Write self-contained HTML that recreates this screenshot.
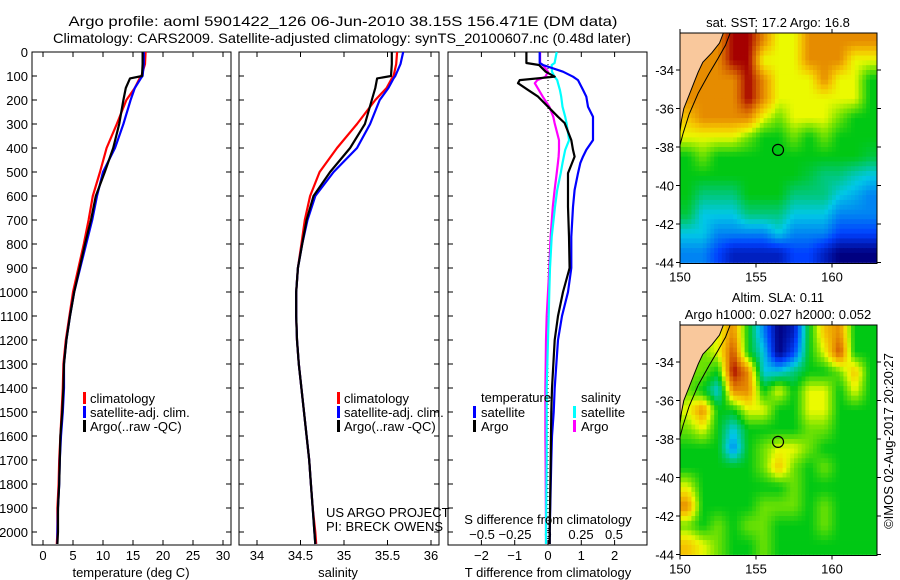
<!DOCTYPE html>
<html><head><meta charset="utf-8">
<style>
html,body{margin:0;padding:0;background:#fff;}
svg{display:block;font-family:"Liberation Sans",sans-serif;}
</style></head>
<body>
<svg id="fig" width="900" height="580" viewBox="0 0 900 580" xmlns="http://www.w3.org/2000/svg">
<text x="343" y="26" font-size="14" text-anchor="middle" textLength="549" lengthAdjust="spacingAndGlyphs">Argo profile: aoml 5901422_126 06-Jun-2010 38.15S 156.471E (DM data)</text>
<text x="342" y="43" font-size="14" text-anchor="middle" textLength="578" lengthAdjust="spacingAndGlyphs">Climatology: CARS2009. Satellite-adjusted climatology: synTS_20100607.nc (0.48d later)</text>
<g id="g"></g>
<text transform="translate(893,441) rotate(-90)" font-size="13" text-anchor="middle">©IMOS 02-Aug-2017 20:20:27</text>
</svg>
<script>
// ---------- data ----------
const depths = [0,50,100,110,150,200,300,400,500,600,700,800,900,1000,1100,1200,1300,1400,1500,1600,1700,1800,1900,2000,2050];
const tempArgo = [16.6,16.6,16.5,14.5,13.8,13.4,12.7,11.7,10.3,8.8,8.0,7.0,6.1,5.2,4.5,3.9,3.5,3.4,3.2,2.9,2.8,2.7,2.5,2.5,2.4];
const tempClim = [17.1,17.0,16.4,16.1,15.3,13.9,12.3,10.6,9.5,8.3,7.6,6.8,5.9,5.0,4.4,3.8,3.4,3.3,3.1,2.9,2.7,2.6,2.4,2.4,2.3];
const tempSat  = [16.8,16.8,16.6,16.3,15.3,14.6,13.4,12.0,10.0,9.0,8.2,7.2,6.2,5.2,4.5,3.9,3.5,3.5,3.3,3.0,2.8,2.7,2.5,2.4,2.4];
const salArgo = [35.55,35.55,35.54,35.38,35.36,35.32,35.24,35.07,34.84,34.65,34.57,34.52,34.47,34.45,34.45,34.46,34.48,34.51,34.54,34.57,34.60,34.62,34.64,34.66,34.67];
const salClim = [35.61,35.60,35.57,35.55,35.49,35.36,35.15,34.92,34.72,34.61,34.55,34.51,34.47,34.45,34.45,34.46,34.48,34.51,34.54,34.57,34.60,34.62,34.64,34.67,34.68];
const salSat  = [35.68,35.65,35.59,35.57,35.51,35.41,35.30,35.15,34.88,34.67,34.58,34.52,34.47,34.45,34.45,34.46,34.48,34.51,34.54,34.57,34.60,34.62,34.64,34.66,34.67];
const diffDepths = [0,46,54,82,103,117,130,158,186,228,270,296,367,408,436,463,505,575,645,770,900,1000,1100,1200,1400,1500,1600,1700,2000,2050];
const dTArgo = [-0.65,-0.65,-0.27,-0.07,0.2,-0.85,-0.9,-0.6,-0.3,0,0.3,0.5,0.7,0.75,0.8,0.72,0.6,0.6,0.6,0.63,0.65,0.45,0.3,0.2,0.12,0.1,0.09,0.08,0.05,0.05];
const dTSat  = [-0.25,-0.25,-0.15,0.45,0.75,0.9,0.95,1.05,1.15,1.2,1.35,1.35,1.35,1.15,1.05,0.97,0.9,0.8,0.75,0.7,0.7,0.6,0.42,0.3,0.2,0.17,0.12,0.1,0.05,0.05];
const dSSat  = [0.066,0.05,0.028,0.03,0.05,0.07,0.076,0.09,0.1,0.11,0.13,0.14,0.16,0.13,0.12,0.11,0.096,0.07,0.053,0.028,0.015,0.01,0.005,0,-0.01,-0.01,-0.01,-0.01,-0.015,-0.015];
const dSArgo = [-0.06,-0.06,-0.04,0,-0.02,-0.08,-0.1,-0.07,-0.04,0.01,0.04,0.05,0.083,0.083,0.08,0.075,0.066,0.05,0.036,0.02,0.01,0,-0.01,-0.015,-0.02,-0.02,-0.02,-0.018,-0.015,-0.015];
const depthTicks = [0,100,200,300,400,500,600,700,800,900,1000,1100,1200,1300,1400,1500,1600,1700,1800,1900,2000];
const tempTicks = [0,5,10,15,20,25,30];
const salTicks = [34,34.5,35,35.5,36];
const salTickLabels = ["34","34.5","35","35.5","36"];
const dTTicks = [-2,-1,0,1,2];
const dSTicks = [-0.5,-0.25,0,0.25,0.5];
const dSTickLabels = ["\u22120.5","\u22120.25","0","0.25","0.5"];
const lonTicks = [150,155,160];
const latTicks = [-34,-36,-38,-40,-42,-44];
const sstGrid = [
[5,5,5,6,6,5,4,4,5,5,5,5,5],
[5,5,5,6,6,4,4,4,5,5,5,4,4],
[5,5,5,5,6,5,4,4,4,5,4,4,3],
[5,5,5,5,6,5,4,4,4,4,4,4,3],
[4.5,5,5,5,5,4,3.5,4,4,4,3.5,3,3],
[4,4,4,4,3.5,3,3,3.5,3,3.5,3,3,3],
[3,3.5,3,3,3,3,3,3,3,3,3,3,2.8],
[3,3,3,3,3,3,3,3,2.8,2.5,2.5,2.2,2],
[3,2.5,2.5,2.5,3,3,3,2.5,2.5,2.5,2,1.8,1.5],
[2.8,2,2,2,2.5,2.5,2.5,2,2,2,1.5,1.5,1.5],
[2,2,1.5,1.5,1.5,1.5,2,1.5,1.5,1.5,1,1,1],
[1.5,1.5,1,0.5,0.5,0.5,0.5,1,1,0.5,0,0,0]];
const slaGrid = [
[4,4,4,5,3,1.5,0,0.5,3,4.5,5,3,3],
[3.5,3.5,4,5.5,3,2,0,1,3,4,5.5,3,3],
[3.5,3.5,3,6,5,2,2,2.5,3,3,3.5,4.5,3],
[3.5,3,2,5,5,3,4,3,4,4,3,4,3],
[4,5,3,3,4,4,3,3,4,4,3,3,3],
[3.5,4,3,2,3,3,3,3,3.5,3.5,3,3,3],
[3,3,3,1.5,3,3.5,4,4,3.5,3,3,3,3],
[3,3,3,3,3,3.5,4.5,3.5,3,3.5,3,3,3],
[4,3,3,3,3,3,3,3.5,3,3,3,3,3],
[5,3,3,3,3,3.5,3.5,3.5,3,3.5,3,3,3],
[3.5,3,3.5,3,3.5,3.5,3,3,3,3.5,3,3,3],
[4.5,4,3.5,3,3,3.5,3,3,3,3,3,3,3]];
const argoLon = 156.45, argoLat = -38.15;

// ---------- helpers ----------
const NS="http://www.w3.org/2000/svg";
const G=document.getElementById('g');
function mk(tag,attrs,parent){const e=document.createElementNS(NS,tag);for(const k in attrs)e.setAttribute(k,attrs[k]);(parent||G).appendChild(e);return e;}
const Y0=52, YS=0.24;
const yD=d=>Y0+d*YS;
const xT=t=>43+6*t;
const xS=s=>257+87*(s-34);
const xDT=t=>548+33.3*t;
const xDS=s=>548+132*s;

function panel(x0,x1,name){
  const r=mk('rect',{x:x0,y:52,width:x1-x0,height:493,fill:'none',stroke:'#000','stroke-width':1});
  
  
  depthTicks.forEach(d=>{
    mk('line',{x1:x0,x2:x0+5,y1:yD(d),y2:yD(d),stroke:'#000'});
    mk('line',{x1:x1-5,x2:x1,y1:yD(d),y2:yD(d),stroke:'#000'});
  });
}
function xticks(vals,labels,fx,name){
  vals.forEach((v,i)=>{
    const x=fx(v);
    mk('line',{x1:x,x2:x,y1:52,y2:57,stroke:'#000'});
    mk('line',{x1:x,x2:x,y1:540,y2:545,stroke:'#000'});
    const t=mk('text',{x:x,y:560,'font-size':13,'text-anchor':'middle'});
    t.textContent=labels[i];
    
    
  });
}
function line(xs,ds,fx,color,name,w){
  const pts=xs.map((v,i)=>fx(v).toFixed(1)+','+yD(ds[i]).toFixed(1)).join(' ');
  const p=mk('polyline',{points:pts,fill:'none',stroke:color,'stroke-width':w||2.2,'stroke-linejoin':'round'});
  
  
}
function label(x,y,txt,name,size,anchor){
  const t=mk('text',{x:x,y:y,'font-size':size||13,'text-anchor':anchor||'start'});
  t.textContent=txt;
  
  
  return t;
}
function legendMark(x,y,color){
  const m=mk('rect',{x:x,y:y-11,width:3,height:12,fill:color});
  
  
}

depthTicks.forEach(d=>{
  const t=mk('text',{x:28,y:yD(d)+5,'font-size':13,'text-anchor':'end'});
  t.textContent=d;
  
  
});

panel(32,231,'temperature-panel');
xticks(tempTicks,tempTicks.map(String),xT,'temperature');
line(tempClim,depths,xT,'#f00','temp-climatology-line');
line(tempSat,depths,xT,'#00f','temp-satellite-line');
line(tempArgo,depths,xT,'#000','temp-argo-line');
label(131,577,'temperature (deg C)','temperature-axis-title',13,'middle');
legendMark(83,403,'#f00');label(90,403,'climatology','legend-climatology');
legendMark(83,417,'#00f');label(90,417,'satellite-adj. clim.','legend-satellite');
legendMark(83,431,'#000');label(90,431,'Argo(..raw -QC)','legend-argo');

panel(239,439,'salinity-panel');
xticks(salTicks,salTickLabels,xS,'salinity');
line(salClim,depths,xS,'#f00','sal-climatology-line');
line(salSat,depths,xS,'#00f','sal-satellite-line');
line(salArgo,depths,xS,'#000','sal-argo-line');
label(338,577,'salinity','salinity-axis-title',13,'middle');
legendMark(337,403,'#f00');label(344,403,'climatology','legend-climatology-2');
legendMark(337,417,'#00f');label(344,417,'satellite-adj. clim.','legend-satellite-2');
legendMark(337,431,'#000');label(344,431,'Argo(..raw -QC)','legend-argo-2');
label(326,517,'US ARGO PROJECT','project-label');
label(326,531,'PI: BRECK OWENS','pi-label');

panel(448,647,'difference-panel');
dTTicks.forEach(v=>{
  const x=xDT(v);
  mk('line',{x1:x,x2:x,y1:52,y2:57,stroke:'#000'});
  mk('line',{x1:x,x2:x,y1:540,y2:545,stroke:'#000'});
  label(x,560,v<0?'\u2212'+(-v):String(v),'dT-tick-label',13,'middle');
});
dSTicks.forEach((v,i)=>{
  const x=xDS(v);
  label(x,539,dSTickLabels[i],'dS-tick-label',13,'middle');
});
const zl=mk('line',{x1:548,x2:548,y1:52,y2:545,stroke:'#000','stroke-dasharray':'1,3'});

line(dSArgo,diffDepths,xDS,'#f0f','dS-argo-line');
line(dSSat,diffDepths,xDS,'#0ff','dS-satellite-line');
line(dTSat,diffDepths,xDT,'#00f','dT-satellite-line');
line(dTArgo,diffDepths,xDT,'#000','dT-argo-line');
label(481,402,'temperature','legend-temperature-heading');
label(581,402,'salinity','legend-salinity-heading');
legendMark(473,417,'#00f');label(481,417,'satellite','legend-t-satellite');
legendMark(473,431,'#000');label(481,431,'Argo','legend-t-argo');
legendMark(573,417,'#0ff');label(581,417,'satellite','legend-s-satellite');
legendMark(573,431,'#f0f');label(581,431,'Argo','legend-s-argo');
label(548,524,'S difference from climatology','dS-axis-title',13,'middle');
label(548,577,'T difference from climatology','dT-axis-title',13,'middle');

// ---------- maps ----------
const stops=[[0,0,0,128],[1,0,64,255],[2,0,200,230],[3,0,200,20],[3.6,130,230,0],[4,235,250,0],[4.5,245,195,0],[5,230,140,0],[5.5,205,80,0],[6,165,0,0]];
function cmap(v){
  for(let i=0;i<stops.length-1;i++){
    const a=stops[i],b=stops[i+1];
    if(v<=b[0]){const f=Math.max(0,(v-a[0])/(b[0]-a[0]));
      return 'rgb('+[1,2,3].map(k=>Math.round(a[k]+(b[k]-a[k])*f)).join(',')+')';}
  }
  return 'rgb(165,0,0)';
}
function sample(grid,r,c){
  const R=grid.length,C=grid[0].length;
  r=Math.max(0,Math.min(R-1,r)); c=Math.max(0,Math.min(C-1,c));
  const r0=Math.floor(r),c0=Math.floor(c),r1=Math.min(R-1,r0+1),c1=Math.min(C-1,c0+1);
  const fr=r-r0,fc=c-c0;
  return grid[r0][c0]*(1-fr)*(1-fc)+grid[r0][c1]*(1-fr)*fc+grid[r1][c0]*fr*(1-fc)+grid[r1][c1]*fr*fc;
}
const lonX=l=>680+15.2*(l-150);
function drawMap(grid,top,name,title1,title2){
  const latY=la=>top+37+19.25*(-34-la);
  const bottom=latY(-44)+1;
  const g=mk('g',{});
  
  
  const SUB=4, R=grid.length, C=grid[0].length;
  for(let i=0;i<R*SUB;i++){
    for(let j=0;j<C*SUB;j++){
      const la=-32-i/SUB, lo=150+j/SUB;
      const y1=Math.max(top,latY(la)), y2=Math.min(bottom,latY(la-1/SUB));
      if(y2<=y1)continue;
      const x1=lonX(lo), x2=Math.min(877,lonX(lo+1/SUB));
      if(x2<=x1)continue;
      const v=sample(grid,(i+0.5)/SUB-0.5,(j+0.5)/SUB-0.5);
      const cell=mk('rect',{x:x1.toFixed(2),y:y1.toFixed(2),width:(x2-x1+0.4).toFixed(2),height:(y2-y1+0.4).toFixed(2),fill:cmap(v)},g);
      
      
    }
  }
  const land=[[150,-31.9],[152.85,-31.9],[152.6,-32.6],[152.1,-33.1],[151.5,-33.6],[151.2,-34.1],[150.9,-34.7],[150.6,-35.3],[150.25,-36],[150.1,-36.6],[150,-37.2]];
  const lp=mk('polygon',{points:land.map(p=>lonX(p[0])+','+Math.max(top,latY(p[1]))).join(' '),fill:'#f9c89c',stroke:'#000','stroke-width':1},g);
  
  const shelf=[[153.3,-31.9],[153,-32.7],[152.5,-33.4],[151.9,-34.2],[151.2,-35.2],[150.6,-36.3],[150.2,-37.3],[150,-37.9]];
  mk('polyline',{points:shelf.map(p=>lonX(p[0])+','+Math.max(top,latY(p[1]))).join(' '),fill:'none',stroke:'#000','stroke-width':1},g);
  mk('rect',{x:680,y:top,width:197,height:bottom-top,fill:'none',stroke:'#000'},g);
  const ci=mk('circle',{cx:lonX(argoLon),cy:latY(argoLat),r:5.5,fill:'none',stroke:'#000','stroke-width':1.2},g);
  
  latTicks.forEach(la=>{
    const y=latY(la);
    mk('line',{x1:676,x2:680,y1:y,y2:y,stroke:'#000'});
    mk('line',{x1:877,x2:881,y1:y,y2:y,stroke:'#000'});
    label(674,y+5,String(la),'lat-tick-label',13,'end');
  });
  lonTicks.forEach(lo=>{
    const x=lonX(lo);
    mk('line',{x1:x,x2:x,y1:bottom,y2:bottom+4,stroke:'#000'});
    mk('line',{x1:x,x2:x,y1:top-4,y2:top,stroke:'#000'});
    label(x,bottom+18,String(lo),'lon-tick-label',13,'middle');
  });
  label(778,top-6-(title2?17:0),title1,name+'-title',13,'middle');
  if(title2)label(778,top-6,title2,name+'-subtitle',13,'middle');
}
drawMap(sstGrid,33,'sst-map','sat. SST: 17.2 Argo: 16.8');
drawMap(slaGrid,325,'sla-map','Altim. SLA: 0.11','Argo h1000: 0.027 h2000: 0.052');
</script>
</body></html>
